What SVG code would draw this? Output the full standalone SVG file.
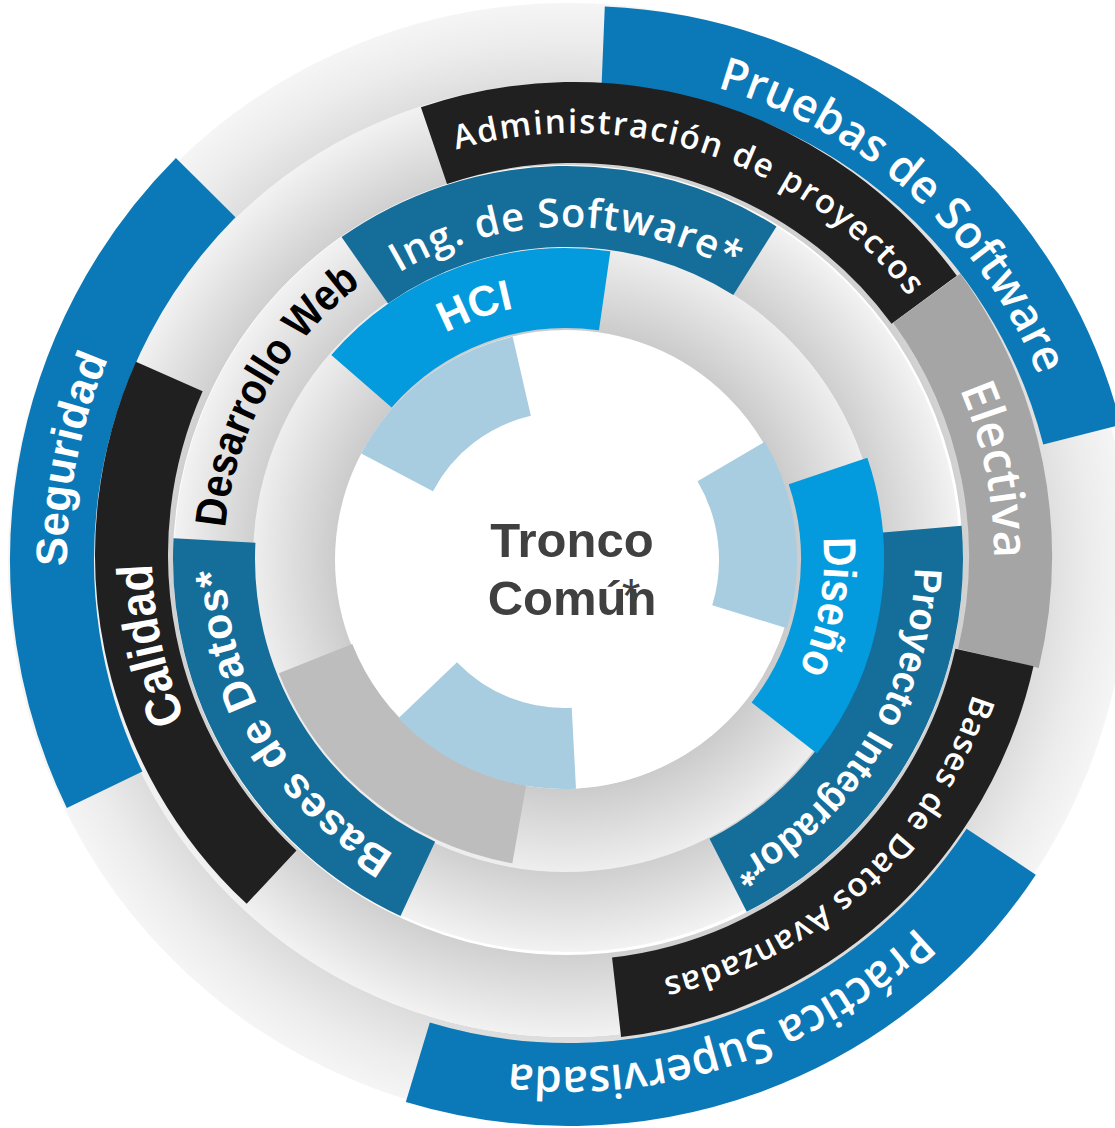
<svg xmlns="http://www.w3.org/2000/svg" width="1115" height="1128" viewBox="0 0 1115 1128">
<defs>
<style>
.seg{fill:none}
.blue{stroke:#0b79b7}
.blk{stroke:#202020}
.ele{stroke:#a5a5a5}
.teal{stroke:#156d99}
.bright{stroke:#039bdd}
.gry{stroke:#bdbdbd}
.lb{stroke:#a8cce0}
.a{fill:#ffffff;font-family:"Liberation Sans",Arial,sans-serif;font-weight:700}
.o{fill:#ffffff;font-family:"Open Sans","Liberation Sans",sans-serif;font-weight:600}
.dk{fill:#000000;font-family:"Liberation Sans",Arial,sans-serif;font-weight:700}
.c{fill:#404040;font-family:"Liberation Sans",Arial,sans-serif;font-weight:700}
</style>
<radialGradient id="g5" gradientUnits="userSpaceOnUse" cx="568" cy="563" r="560"><stop offset="0.846" stop-color="#dcdcdc"/><stop offset="0.93" stop-color="#ececec"/><stop offset="1" stop-color="#f5f5f5"/></radialGradient>
<radialGradient id="g4" gradientUnits="userSpaceOnUse" cx="568" cy="560" r="477"><stop offset="0.828" stop-color="#d0d0d0"/><stop offset="1" stop-color="#f2f2f2"/></radialGradient>
<radialGradient id="g3" gradientUnits="userSpaceOnUse" cx="567" cy="559" r="393"><stop offset="0.794" stop-color="#cfcfcf"/><stop offset="1" stop-color="#f2f2f2"/></radialGradient>
<radialGradient id="g2" gradientUnits="userSpaceOnUse" cx="566" cy="559" r="313"><stop offset="0.73" stop-color="#cbcbcb"/><stop offset="1" stop-color="#eeeeee"/></radialGradient>
<path id="r493" d="M0,-493A493,493 0 1 1 0,493A493,493 0 1 1 0,-493"/>
<path id="r502" d="M0,-502A502,502 0 1 1 0,502A502,502 0 1 1 0,-502"/>
<path id="r513" d="M0,-513A513,513 0 1 1 0,513A513,513 0 1 1 0,-513"/>
<path id="r424" d="M0,-424A424,424 0 1 1 0,424A424,424 0 1 1 0,-424"/>
<path id="r427" d="M0,-427A427,427 0 1 1 0,427A427,427 0 1 1 0,-427"/>
<path id="r420" d="M0,-420A420,420 0 1 1 0,420A420,420 0 1 1 0,-420"/>
<path id="r422" d="M0,-422A422,422 0 1 1 0,422A422,422 0 1 1 0,-422"/>
<path id="r332" d="M0,-332A332,332 0 1 1 0,332A332,332 0 1 1 0,-332"/>
<path id="r348" d="M0,-348A348,348 0 1 1 0,348A348,348 0 1 1 0,-348"/>
<path id="r342" d="M0,-342A342,342 0 1 1 0,342A342,342 0 1 1 0,-342"/>
<path id="r343" d="M0,-343A343,343 0 1 1 0,343A343,343 0 1 1 0,-343"/>
<path id="r256" d="M0,-256A256,256 0 1 1 0,256A256,256 0 1 1 0,-256"/>
</defs>

<g id="ring-backgrounds">
<circle cx="568" cy="563" r="517" fill="none" stroke="url(#g5)" stroke-width="86"/>
<circle cx="568" cy="560" r="436" fill="none" stroke="url(#g4)" stroke-width="82"/>
<circle cx="567" cy="559" r="352.5" fill="none" stroke="url(#g3)" stroke-width="81"/>
<circle cx="566" cy="559" r="271" fill="none" stroke="url(#g2)" stroke-width="84"/>
<circle cx="564" cy="560" r="229" fill="#ffffff"/>
</g>

<g id="pruebas-de-software">
<circle class="seg blue" r="516" stroke-width="80" pathLength="360" stroke-dasharray="73.35 360" transform="translate(582,562) rotate(-87.65)"/>
<text class="o" font-size="46" text-anchor="middle" transform="translate(582,562) rotate(-138.15)"><textPath href="#r493" startOffset="50%" textLength="447" lengthAdjust="spacingAndGlyphs">Pruebas de Software</textPath></text>
</g>

<g id="practica-supervisada">
<circle class="seg blue" r="519.5" stroke-width="83" pathLength="360" stroke-dasharray="73.3 360" transform="translate(568,565) rotate(33.5)"/>
<text class="o" font-size="46" text-anchor="middle" transform="translate(568,565) rotate(-18.6)"><textPath href="#r502" startOffset="50%" textLength="444" lengthAdjust="spacingAndGlyphs">Práctica Supervisada</textPath></text>
</g>

<g id="seguridad">
<circle class="seg blue" r="528" stroke-width="84" pathLength="360" stroke-dasharray="70.65 360" transform="translate(580,560) rotate(154.2)"/>
<text class="a" font-size="44" text-anchor="middle" transform="translate(580,560) rotate(101.2)"><textPath href="#r513" startOffset="50%" textLength="213" lengthAdjust="spacingAndGlyphs">Seguridad</textPath></text>
</g>

<g id="administracion-de-proyectos">
<circle class="seg blk" r="434.5" stroke-width="81" pathLength="360" stroke-dasharray="72.5 360" transform="translate(574,557) rotate(-108.8)"/>
<text class="o" font-size="33" text-anchor="middle" transform="translate(574,557) rotate(-162)"><textPath href="#r424" startOffset="50%" textLength="505" lengthAdjust="spacing">Administración de proyectos</textPath></text>
</g>

<g id="electiva">
<circle class="seg ele" r="438.5" stroke-width="83" pathLength="360" stroke-dasharray="49.5 360" transform="translate(572,556) rotate(-36)"/>
<text class="o" font-size="48" text-anchor="middle" transform="translate(572,556) rotate(-101.5)"><textPath href="#r422" startOffset="50%" textLength="174" lengthAdjust="spacingAndGlyphs">Electiva</textPath></text>
</g>

<g id="bases-de-datos-avanzadas">
<circle class="seg blk" r="438" stroke-width="80" pathLength="360" stroke-dasharray="70.9 360" transform="translate(567,562) rotate(12.6)"/>
<text class="o" font-size="33" text-anchor="middle" transform="translate(567,562) rotate(-42.5)"><textPath href="#r427" startOffset="50%" textLength="440" lengthAdjust="spacing">Bases de Datos Avanzadas</textPath></text>
</g>

<g id="calidad">
<circle class="seg blk" r="440.5" stroke-width="73" pathLength="360" stroke-dasharray="70.9 360" transform="translate(572,555) rotate(133)"/>
<text class="a" font-size="50" text-anchor="middle" transform="translate(572,555) rotate(77.9)"><textPath href="#r420" startOffset="50%" textLength="160" lengthAdjust="spacingAndGlyphs">Calidad</textPath></text>
</g>

<g id="ing-de-software">
<circle class="seg teal" r="352.5" stroke-width="81" pathLength="360" stroke-dasharray="67.2 360" transform="translate(567,559) rotate(-125)"/>
<text class="o" font-size="40" text-anchor="middle" transform="translate(567,559) rotate(-180.25)"><textPath href="#r332" startOffset="50%" textLength="350" lengthAdjust="spacing">Ing. de Software*</textPath></text>
</g>

<g id="proyecto-integrador">
<circle class="seg teal" r="355" stroke-width="82" pathLength="360" stroke-dasharray="67.8 360" transform="translate(567,559) rotate(-4.8)"/>
<text class="a" font-size="39" text-anchor="middle" transform="translate(567,559) rotate(-58.4)"><textPath href="#r348" startOffset="50%" textLength="366" lengthAdjust="spacingAndGlyphs">Proyecto Integrador*</textPath></text>
</g>

<g id="bases-de-datos">
<circle class="seg teal" r="353" stroke-width="82" pathLength="360" stroke-dasharray="68 360" transform="translate(567,559) rotate(115)"/>
<text class="a" font-size="43" text-anchor="middle" transform="translate(567,559) rotate(59.25)"><textPath href="#r342" startOffset="50%" textLength="345" lengthAdjust="spacing">Bases de Datos*</textPath></text>
</g>

<g id="desarrollo-web">
<text class="dk" font-size="44" text-anchor="middle" transform="translate(567,559) rotate(119.2)"><textPath href="#r343" startOffset="50%" textLength="287" lengthAdjust="spacingAndGlyphs">Desarrollo Web</textPath></text>
</g>

<g id="hci">
<circle class="seg bright" r="271" stroke-width="80" pathLength="360" stroke-dasharray="57.2 360" transform="translate(566,559) rotate(-139)"/>
<text class="a" font-size="43" text-anchor="middle" transform="translate(566,559) rotate(-199.9)"><textPath href="#r256" startOffset="50%" textLength="73" lengthAdjust="spacingAndGlyphs">HCI</textPath></text>
</g>

<g id="diseno">
<circle class="seg bright" r="274.5" stroke-width="83" pathLength="360" stroke-dasharray="56.7 360" transform="translate(568,559) rotate(-18.7)"/>
<text class="a" font-size="46" text-anchor="middle" transform="translate(568,559) rotate(-79.6)"><textPath href="#r256" startOffset="50%" textLength="136" lengthAdjust="spacingAndGlyphs">Diseño</textPath></text>
</g>

<g id="gray-segment">
<circle class="seg gry" r="269.5" stroke-width="79" pathLength="360" stroke-dasharray="58.3 360" transform="translate(566,559) rotate(100)"/>
</g>

<g id="inner-segments">
<circle class="seg lb" r="188.5" stroke-width="81" pathLength="360" stroke-dasharray="49.35 360" transform="translate(564,560) rotate(-152.3)"/>
<circle class="seg lb" r="194" stroke-width="78" pathLength="360" stroke-dasharray="47.5 360" transform="translate(564,560) rotate(-30.5)"/>
<circle class="seg lb" r="188.5" stroke-width="81" pathLength="360" stroke-dasharray="49.3 360" transform="translate(564,560) rotate(87)"/>
</g>

<g id="tronco-comun">
<text class="c" x="572" y="557" font-size="49" text-anchor="middle">Tronco</text>
<text class="c" font-size="49"><tspan x="572" y="615" text-anchor="middle">Común</tspan><tspan x="631" y="612" font-size="48" font-weight="400" text-anchor="middle">*</tspan></text>
</g>
</svg>
